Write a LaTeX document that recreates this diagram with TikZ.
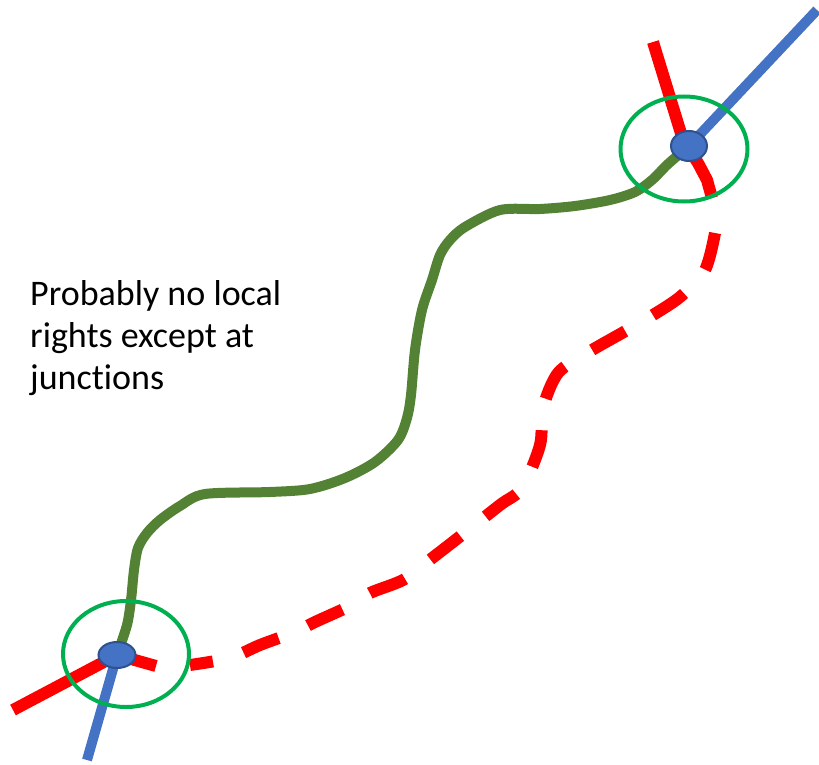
\documentclass[tikz,border=0pt]{standalone}
\usepackage{fontspec}
\setmainfont[Ligatures={NoCommon}]{Carlito}
\usetikzlibrary{shapes.geometric}
\definecolor{rline}{HTML}{FF0000}
\definecolor{bline}{HTML}{4472C4}
\definecolor{bborder}{HTML}{2F528F}
\definecolor{gpath}{HTML}{548235}
\definecolor{gring}{HTML}{00B050}
\tikzset{
  redline/.style={draw=rline, line width=12pt},
  redroute/.style={draw=rline, line width=12pt, dash pattern=on 38pt off 32pt},
  blueline/.style={draw=bline, line width=10pt},
  greenroute/.style={draw=gpath, line width=10pt, line join=round},
  junction/.style={ellipse, fill=bline, draw=bborder, line width=2pt, inner sep=0pt},
  ring/.style={ellipse, draw=gring, line width=4pt, inner sep=0pt},
}
\begin{document}
\begin{tikzpicture}[x=1pt, y=-1pt]
\useasboundingbox (0,0) rectangle (819,765);
% junction positions
\coordinate (pbl) at (117,655);
\coordinate (ptr) at (689,146);
% free ends
\coordinate (rbl) at (13,710);
\coordinate (rblstub) at (156,666);
\coordinate (bbl) at (87,760);
\coordinate (rtr) at (653,42);
\coordinate (btr) at (817,10);
\coordinate (rtrstub) at (712,198);
% red lines
\draw[redline] (rbl) -- (pbl) -- (rblstub);
\draw[redline] (rtr) -- (683,140) -- (698,163) -- (707,180) -- (rtrstub);
\draw[redroute] plot[smooth, tension=0.5] coordinates {
  (715,233) (705,270) (680,297) (648,318) (622,333) (587,353) (558,373)
  (543,408) (540,445) (522,488) (500,505) (458,538) (427,562) (403,580)
  (370,593) (352,605) (315,622) (295,632) (260,645) (230,658) (190,665)};
% blue lines
\draw[blueline] (pbl) -- (bbl);
\draw[blueline] (ptr) -- (btr);
% green route
\draw[greenroute] plot[smooth, tension=0.5] coordinates {
  (pbl) (127,625) (131,600) (134,570) (138,548) (147,533) (160,520)
  (180,506) (205,494) (270,492) (310,489) (345,478) (375,462) (398,440)
  (407,418) (411,395) (415,350) (422,310) (432,280) (440,255) (450,240)
  (465,227) (500,210) (540,209) (575,206) (610,200) (635,192) (652,180)
  (668,164) (ptr)};
% junction nodes
\node[junction, minimum width=37pt, minimum height=26pt] (jbl) at (pbl) {};
\node[junction, minimum width=36pt, minimum height=30pt] (jtr) at (ptr) {};
% rings
\node[ring, minimum width=126pt, minimum height=106pt] (cbl) at (126,654) {};
\node[ring, minimum width=127pt, minimum height=105pt] (ctr) at (684,149) {};
% label
\node[anchor=north west, inner sep=0pt, align=left,
      font=\fontsize{36}{42}\selectfont] (lbl) at (30,280)
  {Probably no local\\rights except at\\junctions};
\end{tikzpicture}
\end{document}
